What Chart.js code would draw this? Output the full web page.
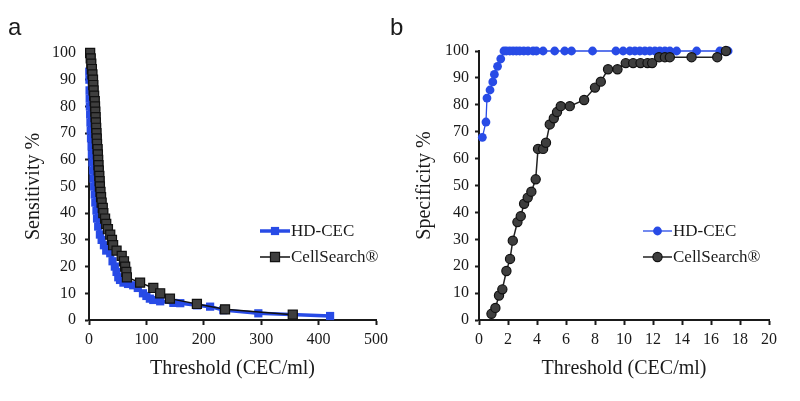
<!DOCTYPE html>
<html>
<head>
<meta charset="utf-8">
<script src="https://cdn.jsdelivr.net/npm/chart.js@4.4.1/dist/chart.umd.min.js"></script>
<style>
  body { margin: 0; background: #fff; }
  #wrap { position: relative; width: 800px; height: 401px; }
  canvas { position: absolute; top: 0; }
</style>
</head>
<body>
<div id="wrap">
  <canvas id="chartA" width="400" height="401" style="left:0"></canvas>
  <canvas id="chartB" width="420" height="401" style="left:380px"></canvas>
</div>
<script>
// panel a: sensitivity vs threshold
var hdThreshA = [0.5, 0.7, 1, 1.2, 1.5, 2, 2.5, 3, 3.5, 4.5, 5, 6, 7, 8, 9, 10, 11, 13, 14, 16, 19, 22, 26, 30, 37, 41, 45, 48, 51, 54, 60, 68, 77, 85, 94, 100, 106, 112, 124, 147, 159, 188, 211, 234, 295, 420];
var hdSensA = [93, 90, 86, 83, 80, 77, 74, 71, 68, 65, 62, 59, 56, 53, 50, 47, 44, 41, 38, 35, 32, 30, 28, 26, 25, 22, 20, 18, 16, 15, 14, 13.5, 13, 12, 10, 9, 8, 7.5, 7, 6.4, 6.3, 5.5, 5, 3.7, 2.5, 1.5];
var csThreshA = [2, 3, 4, 5, 6, 7, 7.5, 8, 9, 10, 10.5, 11, 11.5, 12, 12.5, 13, 13.5, 14, 15, 15.5, 16, 16.5, 17, 18, 18.5, 19, 20, 21, 22, 24, 25, 28, 30, 33, 37, 40, 42, 48, 57, 61, 63, 65, 66, 89, 112, 124, 141, 188, 237, 355];
var csSensA = [100, 98, 96, 94, 92, 90, 88, 86, 84, 82, 80, 78, 76, 74, 72, 70, 68, 66, 64, 62, 60, 58, 56, 54, 52, 50, 48, 46, 44, 42, 40, 38, 36, 34, 32, 30, 28, 26, 24, 22, 20, 18, 16, 14, 12, 10, 8, 6, 4, 2];

// panel b: specificity vs threshold
var hdThreshB = [0.23, 0.48, 0.55, 0.76, 0.95, 1.06, 1.28, 1.5, 1.72, 1.89, 2.12, 2.35, 2.58, 2.81, 3.09, 3.38, 3.73, 3.96, 4.42, 5.22, 5.91, 6.38, 7.83, 9.44, 9.94, 10.4, 10.75, 11.09, 11.44, 11.78, 12.13, 12.47, 12.82, 13.16, 13.63, 15.01, 16.61, 17.18];
var hdSpecB = [67.9, 73.6, 82.5, 85.5, 88.5, 91.3, 94.3, 97.1, 100, 100, 100, 100, 100, 100, 100, 100, 100, 100, 100, 100, 100, 100, 100, 100, 100, 100, 100, 100, 100, 100, 100, 100, 100, 100, 100, 100, 100, 100];
var csThreshB = [0.86, 1.13, 1.38, 1.61, 1.89, 2.14, 2.33, 2.65, 2.88, 3.11, 3.36, 3.61, 3.91, 4.07, 4.42, 4.62, 4.88, 5.16, 5.38, 5.64, 6.26, 7.25, 8.0, 8.4, 8.9, 9.55, 10.12, 10.63, 11.14, 11.62, 11.94, 12.42, 12.82, 13.16, 14.66, 16.43, 17.03];
var csSpecB = [2.3, 4.5, 9.1, 11.4, 18.2, 22.7, 29.5, 36.4, 38.6, 43.2, 45.5, 47.7, 52.3, 63.6, 63.6, 65.9, 72.7, 75, 77.3, 79.5, 79.5, 81.8, 86.4, 88.6, 93.2, 93.2, 95.5, 95.5, 95.5, 95.5, 95.5, 97.7, 97.7, 97.7, 97.7, 97.7, 100];

var seriesNames = ['HD-CEC', 'CellSearch®'];

var BLUE = 'rgb(40,75,230)';
var GREY = 'rgb(62,62,62)';
var INK = '#1a1a1a';
var SERIF = "'Liberation Serif', 'Times New Roman', serif";

function toPoints(xs, ys) {
    return xs.map(function (x, i) { return { x: x, y: ys[i] }; });
}

// legend drawn inside the plot, plus the panel letter
var inlineLegend = {
    id: 'inlineLegend',
    afterDraw: function (chart, args, opts) {
        var ctx = chart.ctx;
        ctx.save();
        ctx.fillStyle = INK;
        ctx.font = "24px 'Liberation Sans', Arial, sans-serif";
        ctx.textBaseline = 'alphabetic';
        ctx.fillText(opts.letter, opts.letterX, 35);

        chart.data.datasets.forEach(function (ds, i) {
            var y = opts.y + i * opts.gap;
            var mid = (opts.x1 + opts.x2) / 2;
            ctx.strokeStyle = ds.borderColor;
            ctx.lineWidth = ds.borderWidth;
            ctx.beginPath();
            ctx.moveTo(opts.x1, y);
            ctx.lineTo(opts.x2, y);
            ctx.stroke();

            ctx.fillStyle = ds.pointBackgroundColor;
            ctx.strokeStyle = ds.pointBorderColor;
            ctx.lineWidth = ds.pointBorderWidth;
            ctx.beginPath();
            if (ds.pointStyle === 'rect') {
                var h = ds.pointRadius * Math.SQRT1_2;
                ctx.rect(mid - h, y - h, 2 * h, 2 * h);
            } else {
                ctx.arc(mid, y, ds.pointRadius, 0, Math.PI * 2);
            }
            ctx.fill();
            if (ds.pointBorderWidth > 0) ctx.stroke();

            ctx.fillStyle = INK;
            ctx.font = '17px ' + SERIF;
            ctx.textBaseline = 'middle';
            ctx.fillText(ds.label, opts.x2 + 1, y + 1);
        });
        ctx.restore();
    }
};

function axes(xMax, xStep, yWidth, yTitle, yTitlePad, yTickPad) {
    var tickFont = { family: SERIF, size: 16 };
    var titleFont = { family: SERIF, size: 20 };
    return {
        x: {
            type: 'linear', min: 0, max: xMax,
            afterFit: function (s) { s.height = 81; },
            ticks: { stepSize: xStep, color: INK, font: tickFont, padding: 5, maxRotation: 0 },
            grid: { drawOnChartArea: false, tickLength: 5, color: INK, tickWidth: 2 },
            border: { color: INK, width: 2 },
            title: { display: true, text: 'Threshold (CEC/ml)', color: INK, font: titleFont, padding: { top: 0, bottom: 20 } }
        },
        y: {
            type: 'linear', min: 0, max: 100,
            afterFit: function (s) { s.width = yWidth; },
            ticks: { stepSize: 10, color: INK, font: tickFont, padding: yTickPad },
            grid: { drawOnChartArea: false, tickLength: 4, color: INK, tickWidth: 2 },
            border: { color: INK, width: 2 },
            title: { display: true, text: yTitle, color: INK, font: titleFont, padding: { top: yTitlePad, bottom: 0 } }
        }
    };
}

new Chart(document.getElementById('chartA'), {
    type: 'scatter',
    data: {
        datasets: [{
            label: seriesNames[0],
            data: toPoints(hdThreshA, hdSensA),
            showLine: true,
            order: 1,
            borderColor: BLUE, borderWidth: 3.5,
            pointStyle: 'rect', pointRadius: 5.8,
            pointBackgroundColor: BLUE, pointBorderColor: BLUE, pointBorderWidth: 0,
            clip: false
        }, {
            label: seriesNames[1],
            data: toPoints(csThreshA, csSensA),
            showLine: true,
            order: 0,
            borderColor: '#111', borderWidth: 1.5,
            pointStyle: 'rect', pointRadius: 6.4,
            pointBackgroundColor: GREY, pointBorderColor: '#111', pointBorderWidth: 1.2,
            clip: false
        }]
    },
    options: {
        responsive: false,
        animation: false,
        devicePixelRatio: 1,
        layout: { padding: { left: 0, top: 53, right: 24, bottom: 0 } },
        plugins: {
            legend: { display: false },
            tooltip: { enabled: false },
            inlineLegend: { letter: 'a', letterX: 8, x1: 260, x2: 290, y: 231, gap: 26 }
        },
        scales: axes(500, 100, 89, 'Sensitivity %', 22, 9)
    },
    plugins: [inlineLegend]
});

new Chart(document.getElementById('chartB'), {
    type: 'scatter',
    data: {
        datasets: [{
            label: seriesNames[0],
            data: toPoints(hdThreshB, hdSpecB),
            showLine: true,
            order: 1,
            borderColor: BLUE, borderWidth: 1.3,
            pointStyle: 'circle', pointRadius: 4.4,
            pointBackgroundColor: BLUE, pointBorderColor: BLUE, pointBorderWidth: 0,
            clip: false
        }, {
            label: seriesNames[1],
            data: toPoints(csThreshB, csSpecB),
            showLine: true,
            order: 0,
            borderColor: '#222', borderWidth: 1.5,
            pointStyle: 'circle', pointRadius: 4.6,
            pointBackgroundColor: GREY, pointBorderColor: '#111', pointBorderWidth: 1.2,
            clip: false
        }]
    },
    options: {
        responsive: false,
        animation: false,
        devicePixelRatio: 1,
        layout: { padding: { left: 0, top: 51, right: 31, bottom: 0 } },
        plugins: {
            legend: { display: false },
            tooltip: { enabled: false },
            inlineLegend: { letter: 'b', letterX: 10, x1: 263, x2: 292, y: 231, gap: 26 }
        },
        scales: axes(20, 2, 99, 'Specificity %', 33, 6)
    },
    plugins: [inlineLegend]
});
</script>
</body>
</html>
